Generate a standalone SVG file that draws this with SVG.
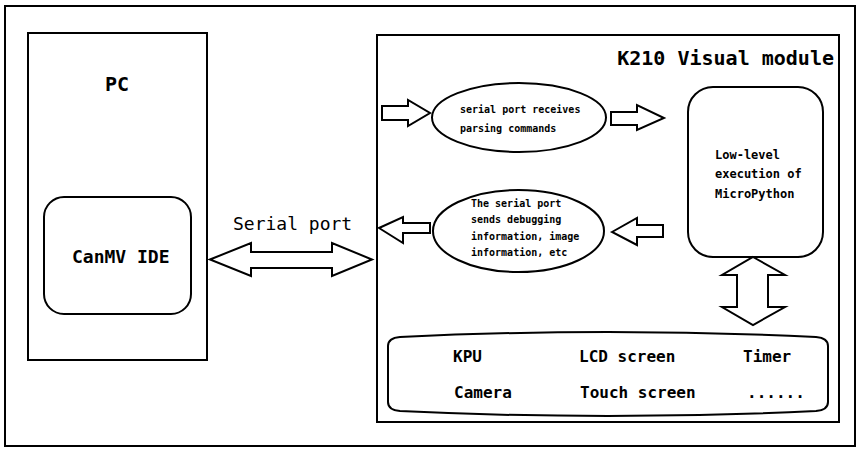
<svg xmlns="http://www.w3.org/2000/svg" width="865" height="457" viewBox="0 0 865 457">
<style>
.s{fill:#fff;stroke:#000;stroke-width:2}
.t{font-family:"DejaVu Sans Mono","Liberation Mono",monospace;font-weight:bold;fill:#000}
.n{font-family:"DejaVu Sans Mono","Liberation Mono",monospace;fill:#000}
.a{fill:#fff;stroke:#000;stroke-width:2;stroke-linejoin:miter}
</style>
<rect x="0" y="0" width="865" height="457" fill="#fff"/>
<rect id="frame" class="s" x="5" y="6" width="850" height="440"/>
<g id="pc">
<rect class="s" x="28" y="33" width="179" height="327"/>
<text class="t" x="117" y="91" font-size="20" text-anchor="middle">PC</text>
</g>
<g id="canmv">
<rect class="s" x="44" y="197" width="147" height="117" rx="20" ry="20"/>
<text class="t" x="72" y="263" font-size="18">CanMV IDE</text>
</g>
<g id="k210">
<rect class="s" x="377" y="35" width="462" height="387"/>
<text class="t" x="834" y="65" font-size="20" text-anchor="end">K210 Visual module</text>
</g>
<g id="recv">
<ellipse class="s" cx="519" cy="117.5" rx="87" ry="34.5"/>
<text class="t" font-size="10" x="460" y="113">serial port receives</text>
<text class="t" font-size="10" x="460" y="132">parsing commands</text>
</g>
<g id="send">
<ellipse class="s" cx="518.5" cy="231" rx="85.5" ry="41"/>
<text class="t" font-size="10" x="471" y="207">The serial port</text>
<text class="t" font-size="10" x="471" y="223">sends debugging</text>
<text class="t" font-size="10" x="471" y="240">information, image</text>
<text class="t" font-size="10" x="471" y="256">information, etc</text>
</g>
<g id="micropython">
<rect class="s" x="688" y="87" width="135" height="170" rx="25" ry="25"/>
<text class="t" font-size="12" x="715" y="159">Low-level</text>
<text class="t" font-size="12" x="715" y="178">execution of</text>
<text class="t" font-size="12" x="715" y="198">MicroPython</text>
</g>
<g id="peripherals">
<path class="s" d="M388,346 Q388,338 400,337 Q608,327 816,337 Q828,338 828,346 L828,402 Q828,410 816,411 Q608,421 400,411 Q388,410 388,402 Z"/>
<text class="t" font-size="16" x="453" y="362">KPU</text>
<text class="t" font-size="16" x="579" y="362">LCD screen</text>
<text class="t" font-size="16" x="743" y="362">Timer</text>
<text class="t" font-size="16" x="454" y="398">Camera</text>
<text class="t" font-size="16" x="580" y="398">Touch screen</text>
<text class="t" font-size="16" x="747" y="398">......</text>
</g>
<g id="connectors">
<text class="n" font-size="18" x="233" y="230">Serial port</text>
<polygon class="a" points="210,259.5 251,243 251,252 332,252 332,243 372,259.5 332,276 332,268 251,268 251,276"/>
<polygon class="a" points="382,106 408,106 408,100 430,113 408,126 408,120 382,120"/>
<polygon class="a" points="611,112 637,112 637,105 664,118 637,130 637,125 611,125"/>
<polygon class="a" points="379,228 403,217 403,223 430,223 430,233 403,233 403,243"/>
<polygon class="a" points="612,232 637,218 637,225 663,225 663,237 637,237 637,245"/>
<polygon class="a" points="753,257 785,275 768,275 768,307 785,307 753,325 722,307 737,307 737,275 722,275"/>
</g>
</svg>
